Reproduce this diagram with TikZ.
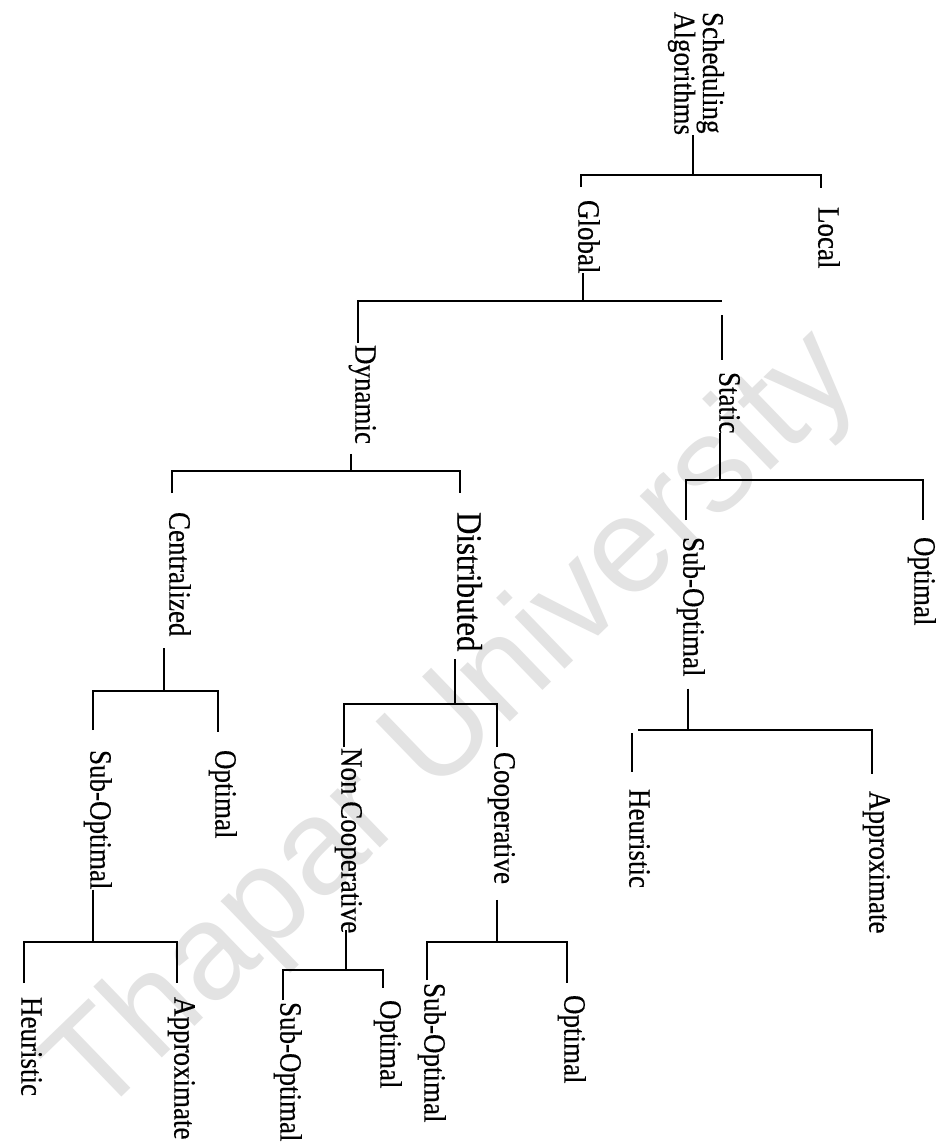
\documentclass[tikz,border=0pt]{standalone}
\usepackage{fontspec}
\setmainfont{Liberation Serif}[FakeBold=0.5]
\newfontfamily\markfont{Liberation Sans}
\begin{document}
\begin{tikzpicture}[x=1pt,y=-1pt,
  lbl/.style={rotate=-90, yscale=1.15, anchor=west, inner sep=0pt, outer sep=0pt,
    font=\fontsize{27}{24}\selectfont, text height=0.68em, text depth=0.22em},
  link/.style={line width=2.3pt, black},
]
\fill[white] (0,0) rectangle (938,1146);
\useasboundingbox (0,0) rectangle (938,1146);

% faint watermark behind the tree
\node[rotate=44, anchor=base west, inner sep=0pt, text=black!11,
  font=\markfont\fontsize{136}{136}\selectfont] (mark) at (96,1122) {Thapar University};

% labels, all set reading downwards
\node[rotate=-90, yscale=1.12, anchor=north west, inner sep=0pt, outer sep=0pt, align=left,
  font=\fontsize{27}{22}\selectfont] (root) at (724,12) {Scheduling\\Algorithms};
\node[lbl] (global) at (581,200) {Global};
\node[lbl] (local) at (821,207) {Local};
\node[lbl] (dynamic) at (358,345) {Dynamic};
\node[lbl] (static) at (722,372) {Static};
\node[lbl] (centralized) at (172,512) {Centralized};
\node[lbl, font=\fontsize{31}{31}\selectfont] (distributed) at (460,512) {Distributed};
\node[lbl] (ssub) at (686,537) {Sub-Optimal};
\node[lbl] (sopt) at (917,537) {Optimal};
\node[lbl] (sheu) at (632,789) {Heuristic};
\node[lbl] (sapp) at (872,791) {Approximate};
\node[lbl] (csub) at (93,750) {Sub-Optimal};
\node[lbl] (copt) at (218,750) {Optimal};
\node[lbl] (cheu) at (24,997) {Heuristic};
\node[lbl] (capp) at (177,997) {Approximate};
\node[lbl] (ncoop) at (344,748) {Non Cooperative};
\node[lbl] (coop) at (497,752) {Cooperative};
\node[lbl] (nsub) at (283,1002) {Sub-Optimal};
\node[lbl] (nopt) at (383,1000) {Optimal};
\node[lbl] (qsub) at (427,983) {Sub-Optimal};
\node[lbl] (qopt) at (567,995) {Optimal};

% junctions where each parent's stem meets its bar
\coordinate (j1) at (693,175);
\coordinate (j2) at (583,301);
\coordinate (j3) at (351,471);
\coordinate (j4) at (720,480);
\coordinate (j5) at (164,691);
\coordinate (j6) at (455,704);
\coordinate (j7) at (688,730);
\coordinate (j8) at (93,942);
\coordinate (j9) at (497,942);
\coordinate (j10) at (346,970);

% stems
\draw[link] (root.east -| j1) -- (j1);
\draw[link] (global.east -| j2) -- (j2);
\draw[link, shorten <=10pt] (dynamic.east -| j3) -- (j3);
\draw[link] (static.east -| j4) -- (j4);
\draw[link, shorten <=12pt] (centralized.east -| j5) -- (j5);
\draw[link, shorten <=8pt] (distributed.east -| j6) -- (j6);
\draw[link, shorten <=12pt] (ssub.east -| j7) -- (j7);
\draw[link] (csub.east -| j8) -- (j8);
\draw[link, shorten <=16pt] (coop.east -| j9) -- (j9);
\draw[link, shorten <=-3pt] (ncoop.east -| j10) -- (j10);

% bars with their ticks down to the children
\draw[link, shorten <=13pt, shorten >=19pt] (global.west) -- (global.west |- j1) -- (local.west |- j1) -- (local.west);
\draw[link, shorten <=2pt] (dynamic.west) -- (dynamic.west |- j2) -- (static.west |- j2);
\draw[link, shorten <=14pt, shorten >=12pt] (static.west |- j2) -- (static.west);
\draw[link, shorten <=19pt, shorten >=19pt] (centralized.west) -- (centralized.west |- j3) -- (distributed.west |- j3) -- (distributed.west);
\draw[link, shorten <=17pt, shorten >=17pt] (ssub.west) -- (ssub.west |- j4) -- ([xshift=6pt]sopt.west |- j4) -- ([xshift=6pt]sopt.west);
\draw[link, shorten <=20pt, shorten >=18pt] (csub.west) -- (csub.west |- j5) -- (copt.west |- j5) -- (copt.west);
\draw[link, shorten <=1pt, shorten >=5pt] (ncoop.west) -- (ncoop.west |- j6) -- (coop.west |- j6) -- (coop.west);
\draw[link, shorten >=17pt] ([xshift=6pt]sheu.west |- j7) -- (sapp.west |- j7) -- (sapp.west);
\draw[link, shorten <=3pt, shorten >=17pt] (sheu.west |- j7) -- (sheu.west);
\draw[link, shorten <=14pt, shorten >=14pt] (cheu.west) -- (cheu.west |- j8) -- (capp.west |- j8) -- (capp.west);
\draw[link, shorten <=3pt, shorten >=12pt] (qsub.west) -- (qsub.west |- j9) -- (qopt.west |- j9) -- (qopt.west);
\draw[link, shorten <=2pt, shorten >=12pt] (nsub.west) -- (nsub.west |- j10) -- (nopt.west |- j10) -- (nopt.west);
\end{tikzpicture}
\end{document}
